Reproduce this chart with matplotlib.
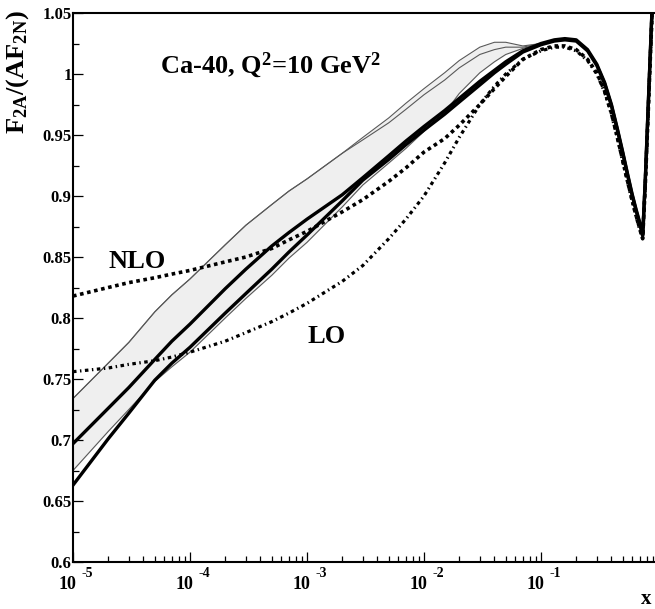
import matplotlib
matplotlib.use("Agg")
import matplotlib.pyplot as plt
from matplotlib.ticker import LogLocator, MultipleLocator, NullFormatter, FixedLocator

plt.rcParams['font.family'] = ['Liberation Serif', 'DejaVu Serif']
plt.rcParams['font.weight'] = 'bold'
plt.rcParams['mathtext.fontset'] = 'custom'
plt.rcParams['mathtext.rm'] = 'Liberation Serif:bold'
plt.rcParams['mathtext.it'] = 'Liberation Serif:bold'
plt.rcParams['mathtext.bf'] = 'Liberation Serif:bold'

# ---------------- data ----------------
x = [1e-5, 2e-5, 3e-5, 5e-5, 7e-5, 1e-4, 2e-4, 3e-4, 5e-4, 7e-4, 1e-3, 2e-3, 3e-3,
     5e-3, 7e-3, 1e-2, 1.5e-2, 2e-2, 3e-2, 4e-2, 5e-2, 7e-2, 0.1, 0.13, 0.16, 0.2,
     0.25, 0.3, 0.35, 0.4, 0.45, 0.5, 0.55, 0.6, 0.65, 0.7, 0.74, 0.78, 0.82, 0.86,
     0.9, 0.95]

thick_upper = [0.697, 0.726, 0.743, 0.766, 0.781, 0.795, 0.824, 0.840, 0.859, 0.870,
               0.881, 0.901, 0.915, 0.933, 0.945, 0.957, 0.970, 0.980, 0.994, 1.003,
               1.010, 1.019, 1.025, 1.028, 1.029, 1.028, 1.020, 1.008, 0.993, 0.975,
               0.955, 0.936, 0.918, 0.902, 0.889, 0.878, 0.868, 0.915, 0.968, 1.018,
               1.066, 1.120]

thick_lower = [0.663, 0.701, 0.722, 0.749, 0.763, 0.776, 0.804, 0.820, 0.840, 0.854,
               0.868, 0.896, 0.913, 0.930, 0.942, 0.954, 0.967, 0.977, 0.991, 1.001,
               1.008, 1.018, 1.024, 1.027, 1.028, 1.027, 1.019, 1.007, 0.992, 0.974,
               0.954, 0.935, 0.917, 0.901, 0.888, 0.877, 0.867, 0.914, 0.967, 1.017,
               1.065, 1.120]

band_upper = [0.734, 0.763, 0.780, 0.805, 0.819, 0.832, 0.860, 0.876, 0.893, 0.904,
              0.914, 0.935, 0.948, 0.964, 0.976, 0.988, 1.001, 1.011, 1.022, 1.026,
              1.026, 1.023, 1.025, 1.028, 1.029, 1.028, 1.020, 1.008, 0.993, 0.975,
              0.955, 0.936, 0.918, 0.902, 0.889, 0.878, 0.868, 0.915, 0.968, 1.018,
              1.066, 1.120]

band_inner = [0.734, 0.763, 0.780, 0.805, 0.819, 0.832, 0.860, 0.876, 0.893, 0.904,
              0.914, 0.935, 0.946, 0.960, 0.971, 0.983, 0.995, 1.005, 1.016, 1.020,
              1.022, 1.022, 1.025, 1.028, 1.029, 1.028, 1.020, 1.008, 0.993, 0.975,
              0.955, 0.936, 0.918, 0.902, 0.889, 0.878, 0.868, 0.915, 0.968, 1.018,
              1.066, 1.120]

band_lower = [0.675, 0.707, 0.725, 0.748, 0.760, 0.772, 0.800, 0.816, 0.835, 0.849,
              0.862, 0.891, 0.909, 0.927, 0.939, 0.953, 0.968, 0.984, 1.001, 1.010,
              1.016, 1.021, 1.025, 1.028, 1.029, 1.028, 1.020, 1.008, 0.993, 0.975,
              0.955, 0.936, 0.918, 0.902, 0.889, 0.878, 0.868, 0.915, 0.968, 1.018,
              1.066, 1.120]

nlo = [0.818, 0.825, 0.829, 0.833, 0.836, 0.839, 0.846, 0.850, 0.857, 0.864,
       0.871, 0.887, 0.897, 0.912, 0.923, 0.936, 0.947, 0.958, 0.975, 0.988,
       0.998, 1.012, 1.020, 1.023, 1.023, 1.020, 1.012, 1.001, 0.986, 0.968,
       0.948, 0.929, 0.912, 0.897, 0.884, 0.873, 0.865, 0.910, 0.962, 1.013,
       1.060, 1.115]

lo = [0.756, 0.759, 0.762, 0.765, 0.768, 0.772, 0.781, 0.788, 0.797, 0.804,
      0.812, 0.830, 0.843, 0.865, 0.881, 0.900, 0.927, 0.948, 0.975, 0.990,
      1.000, 1.012, 1.019, 1.022, 1.022, 1.019, 1.011, 1.000, 0.985, 0.967,
      0.947, 0.928, 0.911, 0.896, 0.883, 0.872, 0.865, 0.910, 0.962, 1.013,
      1.060, 1.115]

xticks = [1e-5, 1e-4, 1e-3, 1e-2, 1e-1]
xtick_base = ['10', '10', '10', '10', '10']
xtick_exp = ['-5', '-4', '-3', '-2', '-1']
yticks = [0.6, 0.65, 0.7, 0.75, 0.8, 0.85, 0.9, 0.95, 1.0, 1.05]
yticklabels = ['0.6', '0.65', '0.7', '0.75', '0.8', '0.85', '0.9', '0.95', '1', '1.05']

# ---------------- figure ----------------
W, H = 655, 609
fig = plt.figure(figsize=(W / 100, H / 100), dpi=100)
ax = fig.add_axes([73 / W, 1 - 562 / H, (655 - 73) / W, (562 - 13) / H])

ax.fill_between(x, band_lower, band_upper, color='#efefef', lw=0, zorder=1)
for s in (band_upper, band_inner, band_lower):
    ax.plot(x, s, color='0.35', lw=0.8, zorder=2)

ax.plot(x, nlo, color='black', lw=2.6, ls=(0, (1.0, 1.0)), dash_capstyle='butt', zorder=3)
ax.plot(x, lo, color='black', lw=2.3, ls=(0, (1.1, 1.1, 0.45, 1.1)), dash_capstyle='butt', zorder=3)

ax.plot(x, thick_upper, color='black', lw=2.4, zorder=4)
ax.plot(x, thick_lower, color='black', lw=2.4, zorder=4)

ax.set_xscale('log')
ax.set_xlim(1e-5, 0.943)
ax.set_ylim(0.6, 1.05)

ax.xaxis.set_major_locator(FixedLocator(xticks))
ax.set_xticklabels([''] * len(xticks))
ax.xaxis.set_minor_locator(LogLocator(base=10, subs=[2, 3, 4, 5, 6, 7, 8, 9], numticks=20))
ax.xaxis.set_minor_formatter(NullFormatter())
ax.set_yticks(yticks)
ax.set_yticklabels(yticklabels)
ax.yaxis.set_minor_locator(MultipleLocator(0.025))

ax.tick_params(which='both', direction='in', top=False, right=False, width=0.9, labelsize=12)
ax.tick_params(which='major', length=7)
ax.tick_params(which='minor', length=4)
ax.tick_params(axis='y', pad=1)

for t, b, e in zip(xticks, xtick_base, xtick_exp):
    ax.annotate(b, xy=(t, 0), xycoords=('data', 'axes fraction'), xytext=(-5.5, -14),
                textcoords='offset pixels', ha='center', va='top', fontsize=13,
                fontweight='bold', annotation_clip=False)
    ax.annotate(e, xy=(t, 0), xycoords=('data', 'axes fraction'), xytext=(14, -5),
                textcoords='offset pixels', ha='center', va='top', fontsize=10,
                fontweight='bold', annotation_clip=False)

for side in ('left', 'bottom', 'top'):
    ax.spines[side].set_linewidth(1.5)
ax.spines['right'].set_visible(False)

ax.text(4.92e-4, 1.0008, r'Ca-40, Q$^2$=10 GeV$^2$', fontsize=19, fontweight='bold',
        ha='center', va='baseline')
ax.text(3.52e-5, 0.841, 'NLO', fontsize=19, fontweight='bold', ha='center', va='baseline')
ax.text(1.48e-3, 0.7795, 'LO', fontsize=19, fontweight='bold', ha='center', va='baseline')

fig.text(18 / W, 1 - 72 / H, r'F$_{2A}$/(AF$_{2N}$)', rotation=90, fontsize=19,
         fontweight='bold', ha='center', va='center')
fig.text(646 / W, 1 - 604 / H, 'x', fontsize=15, fontweight='bold', ha='center', va='baseline')

fig.savefig('out.png', dpi=100)
